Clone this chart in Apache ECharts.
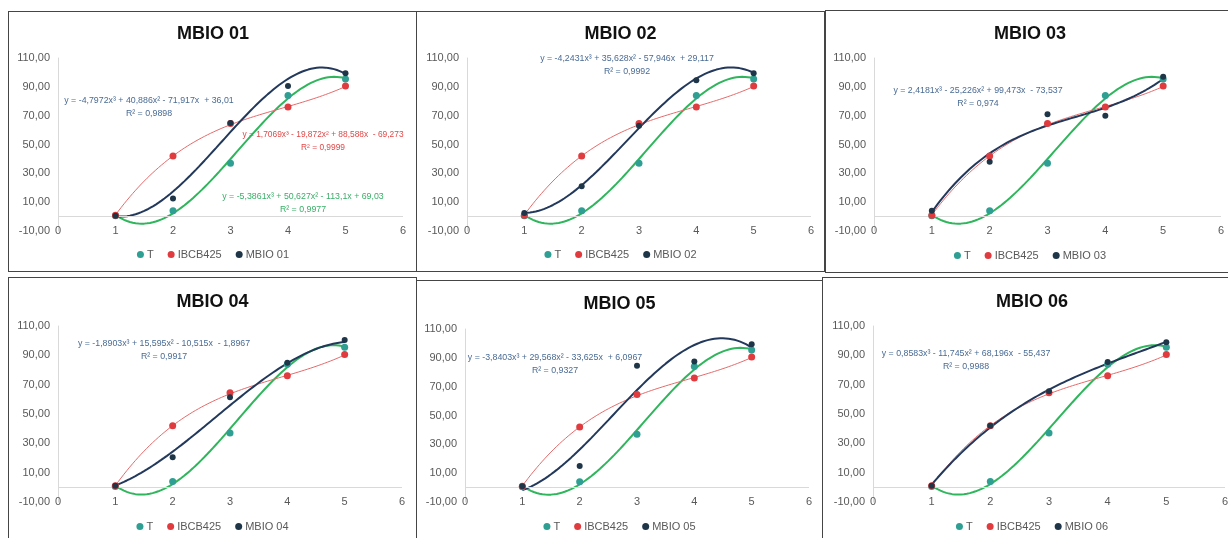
<!DOCTYPE html>
<html><head><meta charset="utf-8">
<script src="https://cdn.jsdelivr.net/npm/echarts@6/dist/echarts.min.js"></script>
<style>
html,body{margin:0;padding:0;background:#fff;width:1228px;height:538px;overflow:hidden;position:relative;}
.panel{position:absolute;box-sizing:border-box;border:1px solid #454545;background:#fff;}
.panel .c{position:absolute;left:0;top:0;right:0;bottom:0;}
</style></head>
<body>
<script>
// ---------- DATA ----------
const xValues = [1, 2, 3, 4, 5];
const xTicks = [0, 1, 2, 3, 4, 5, 6];
const yTicks = [-10, 10, 30, 50, 70, 90, 110];
const seriesNames = ['T', 'IBCB425'];
const panelTitles = ['MBIO 01', 'MBIO 02', 'MBIO 03', 'MBIO 04', 'MBIO 05', 'MBIO 06'];

const tValues = [0.5, 4, 37, 84, 95.5];
const ibcbValues = [1, 42, 64.5, 76, 90.5];
const mbio01 = [0.5, 12.5, 65, 90.5, 99.5];
const mbio02 = [2.5, 21, 63, 94.5, 99.5];
const mbio03 = [4, 38, 71, 70, 97];
const mbio04 = [1, 20.5, 61.5, 85, 100.5];
const mbio05 = [1, 15, 84.5, 87.5, 99.5];
const mbio06 = [1, 42, 65.5, 85.5, 99];

// cubic trendline coefficients (x^3, x^2, x, c) as printed on the chart
const tCoef = [-5.3861, 50.627, -113.1, 69.03];
const ibcbCoef = [1.7069, -19.872, 88.588, -69.273];
const mbio01Coef = [-4.7972, 40.886, -71.917, 36.01];
const mbio02Coef = [-4.2431, 35.628, -57.946, 29.117];
const mbio03Coef = [2.4181, -25.226, 99.473, -73.537];
const mbio04Coef = [-1.8903, 15.595, -10.515, -1.8967];
const mbio05Coef = [-3.8403, 29.568, -33.625, 6.0967];
const mbio06Coef = [0.8583, -11.745, 68.196, -55.437];

const tEq = 'y = -5,3861x³ + 50,627x² - 113,1x + 69,03';
const tR2 = 'R² = 0,9977';
const ibcbEq = 'y = 1,7069x³ - 19,872x² + 88,588x  - 69,273';
const ibcbR2 = 'R² = 0,9999';
const mbioEqs = [
  'y = -4,7972x³ + 40,886x² - 71,917x  + 36,01',
  'y = -4,2431x³ + 35,628x² - 57,946x  + 29,117',
  'y = 2,4181x³ - 25,226x² + 99,473x  - 73,537',
  'y = -1,8903x³ + 15,595x² - 10,515x  - 1,8967',
  'y = -3,8403x³ + 29,568x² - 33,625x  + 6,0967',
  'y = 0,8583x³ - 11,745x² + 68,196x  - 55,437'
];
const mbioR2 = ['R² = 0,9898', 'R² = 0,9992', 'R² = 0,974', 'R² = 0,9917', 'R² = 0,9327', 'R² = 0,9988'];
const mbioValues = [mbio01, mbio02, mbio03, mbio04, mbio05, mbio06];
const mbioCoefs = [mbio01Coef, mbio02Coef, mbio03Coef, mbio04Coef, mbio05Coef, mbio06Coef];

// ---------- LAYOUT (pixels) ----------
const layout = [
  {box:[8,11,410,261],  grid:[49,46,345,173],  title:22, legend:243, eq:[140,88]},
  {box:[416,11,409,261],grid:[50,46,344,173],  title:22, legend:243, eq:[210,46]},
  {box:[825,10,410,263],grid:[48,47,347,173],  title:23, legend:245, eq:[152,79]},
  {box:[8,277,409,270], grid:[49,48,344,176],  title:24, legend:249, eq:[155,65]},
  {box:[416,280,407,270],grid:[48,48,344,173], title:23, legend:246, eq:[138,76]},
  {box:[822,277,420,270],grid:[50,48,352,176], title:24, legend:249, eq:[143,75]}
];
const extraEq = {ibcb:[314,122], t:[294,184]}; // only panel 1

const colT = '#2f9f93', colTLine = '#2fb55c';
const colR = '#e03c3f', colRLine = '#e46a6a';
const colM = '#1f3548', colMLine = '#22395c';
const colMText = '#4a6b94';
const FONT = 'Liberation Sans';

function curve(coef) {
  const pts = [];
  for (let i = 0; i <= 80; i++) {
    const x = 1 + i * 0.05;
    pts.push([x, ((coef[0] * x + coef[1]) * x + coef[2]) * x + coef[3]]);
  }
  return pts;
}
function pairs(vals) { return xValues.map((x, i) => [x, vals[i]]); }

layout.forEach((L, k) => {
  const box = document.createElement('div');
  box.className = 'panel';
  box.style.left = L.box[0] + 'px'; box.style.top = L.box[1] + 'px';
  box.style.width = L.box[2] + 'px'; box.style.height = L.box[3] + 'px';
  const c = document.createElement('div'); c.className = 'c';
  box.appendChild(c); document.body.appendChild(box);
  const chart = echarts.init(c, null, {renderer: 'canvas'});
  const mName = panelTitles[k];
  const eqText = (t, col, pos, fs) => ({
    type: 'text', x: pos[0], y: pos[1] - 6, z: 50,
    style: {text: t, fill: col, font: (fs || 8.8) + 'px "' + FONT + '"', textAlign: 'center', lineHeight: 13}
  });
  const graphics = [eqText(mbioEqs[k] + '\n' + mbioR2[k], colMText, L.eq)];
  if (k === 0) {
    graphics.push(eqText(ibcbEq + '\n' + ibcbR2, '#e04848', extraEq.ibcb, 8.4));
    graphics.push(eqText(tEq + '\n' + tR2, '#3aae68', extraEq.t));
  }
  const lineSeries = (name, data, color, width) => ({
    name: name + ' trend', type: 'line', data: data, showSymbol: false, symbol: 'none',
    lineStyle: {color: color, width: width}, silent: true, z: 2, animation: false
  });
  const option = {
    animation: false,
    title: {text: mName, left: 'center', top: L.title - 14,
      textStyle: {fontFamily: FONT, fontWeight: 'bold', fontSize: 18, color: '#111'}},
    legend: {data: [seriesNames[0], seriesNames[1], mName], left: 'center', top: L.legend - 11,
      icon: 'circle', itemWidth: 7, itemHeight: 7, itemGap: 14,
      textStyle: {fontFamily: FONT, fontSize: 11, color: '#595959', padding: [0,0,0,-2]}},
    grid: {left: L.grid[0], top: L.grid[1], width: L.grid[2], height: L.grid[3]},
    xAxis: {type: 'value', min: xTicks[0], max: xTicks[xTicks.length - 1], interval: 1,
      axisLine: {show: false}, axisTick: {show: false}, splitLine: {show: false},
      axisLabel: {margin: 0, verticalAlign: 'middle', fontFamily: FONT, fontSize: 11, color: '#595959',
        formatter: v => xTicks.includes(v) ? String(v) : ''}},
    yAxis: {type: 'value', min: yTicks[0], max: yTicks[yTicks.length - 1], interval: 10,
      axisLine: {show: true, onZero: false, lineStyle: {color: '#d9d9d9'}}, axisTick: {show: false},
      splitLine: {show: false},
      axisLabel: {margin: 8, fontFamily: FONT, fontSize: 11, color: '#595959',
        formatter: v => yTicks.includes(v) ? v.toFixed(2).replace('.', ',') : ''}},
    graphic: graphics,
    series: [
      lineSeries('T', curve(tCoef), colTLine, 2),
      lineSeries('IBCB425', curve(ibcbCoef), colRLine, 1),
      lineSeries(mName, curve(mbioCoefs[k]), colMLine, 2),
      {name: seriesNames[0], type: 'scatter', data: pairs(tValues), symbolSize: 7,
        itemStyle: {color: colT, opacity: 1}, z: 5,
        markLine: {silent: true, symbol: 'none', label: {show: false},
          lineStyle: {color: '#d9d9d9', width: 1, type: 'solid'}, data: [{yAxis: 0}]}},
      {name: seriesNames[1], type: 'scatter', data: pairs(ibcbValues), symbolSize: 7,
        itemStyle: {color: colR, opacity: 1}, z: 6},
      {name: mName, type: 'scatter', data: pairs(mbioValues[k]), symbolSize: 6,
        itemStyle: {color: colM, opacity: 1}, z: 7}
    ]
  };
  chart.setOption(option);
});
</script>
</body></html>
